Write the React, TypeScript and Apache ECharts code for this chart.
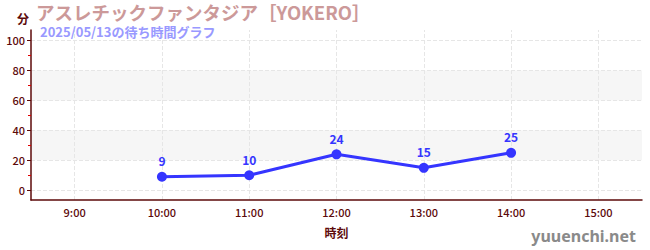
import React, { useEffect, useRef } from "react";
import * as echarts from "echarts";

const categories = ["9:00", "10:00", "11:00", "12:00", "13:00", "14:00", "15:00"];
const waitTimes: (number | null)[] = [null, 9, 10, 24, 15, 25, null];
const majorTicks = [0, 20, 40, 60, 80, 100];
const minorTicks = [10, 30, 50, 70, 90];
const bands = [
  [20, 40],
  [60, 80],
];
const titleText = "アスレチックファンタジア［YOKERO］";
const subText = "2025/05/13の待ち時間グラフ";
const xName = "時刻";
const yName = "分";
const watermark = "yuuenchi.net";

const FONT = "'Noto Sans CJK JP', 'Noto Sans', sans-serif";
const AXIS_COLOR = "#5c0a0a";

export default function App() {
  const ref = useRef<HTMLDivElement>(null);
  useEffect(() => {
    document.body.style.margin = "0";
    if (!ref.current) return;
    const chart = echarts.init(ref.current, null, { renderer: "svg" });
    chart.setOption({
      animation: false,
      textStyle: { fontFamily: FONT },
      title: [
        {
          text: titleText,
          left: 36,
          top: 2,
          padding: 0,
          textStyle: { fontSize: 18.5, fontWeight: "bold", color: "#cc9999", fontFamily: FONT, lineHeight: 19 },
        },
        {
          text: subText,
          left: 40,
          top: 25,
          padding: 0,
          textStyle: { fontSize: 13, fontWeight: "bold", color: "#9999ff", fontFamily: FONT, lineHeight: 13 },
        },
      ],
      graphic: [
        {
          type: "text",
          right: 14,
          bottom: 6,
          style: { text: watermark, fontSize: 16, fill: "#8a8a8a", fontFamily: "'Noto Sans', sans-serif", fontWeight: "bold" },
        },
      ],
      grid: { left: 31, right: 8, top: 30, bottom: 50 },
      xAxis: {
        type: "category",
        data: categories,
        boundaryGap: true,
        name: xName,
        nameLocation: "middle",
        nameGap: 26,
        nameTextStyle: { color: AXIS_COLOR, fontSize: 12, fontWeight: "bold" },
        axisLine: { onZero: false, lineStyle: { color: AXIS_COLOR, width: 1.5 } },
        axisTick: { alignWithLabel: true, length: 4, lineStyle: { color: AXIS_COLOR } },
        axisLabel: { color: AXIS_COLOR, fontSize: 11, fontWeight: 500, margin: 6 },
        splitLine: { show: false },
      },
      yAxis: [
        {
          type: "value",
          min: -6.5,
          max: 107,
          name: yName,
          nameLocation: "end",
          nameGap: 6,
          nameTextStyle: { color: AXIS_COLOR, fontSize: 12, fontWeight: "bold", align: "right", padding: [0, 2, 0, 0] },
          axisLine: { show: true, lineStyle: { color: AXIS_COLOR, width: 1.5 } },
          axisTick: { show: true, length: 4, customValues: majorTicks, lineStyle: { color: AXIS_COLOR } },
          axisLabel: { color: AXIS_COLOR, fontSize: 11, fontWeight: 500, margin: 6, customValues: majorTicks },
          splitLine: { show: false },
        },
        {
          type: "value",
          min: -6.5,
          max: 107,
          position: "left",
          axisLine: { show: false },
          axisTick: { show: true, length: 3, customValues: minorTicks, lineStyle: { color: "#e00000" } },
          axisLabel: { show: false },
          splitLine: { show: false },
        },
      ],
      series: [
        {
          type: "line",
          data: categories.map(() => null),
          z: -1,
          silent: true,
          markArea: {
            silent: true,
            z: -3,
            itemStyle: { color: "#f6f6f6" },
            data: bands.map(([a, b]) => [{ yAxis: a }, { yAxis: b }]),
          },
          markLine: {
            silent: true,
            z: -2,
            symbol: "none",
            label: { show: false },
            lineStyle: { color: "#e6e6e6", type: "dashed", width: 1 },
            data: [
              ...majorTicks.map((v) => ({ yAxis: v })),
              ...categories.map((c) => ({ xAxis: c })),
            ],
          },
        },
        {
          type: "line",
          data: waitTimes,
          symbol: "circle",
          symbolSize: 10,
          lineStyle: { color: "#3535ff", width: 3 },
          itemStyle: { color: "#3535ff" },
          label: {
            show: true,
            position: "top",
            distance: 5,
            color: "#3535ff",
            fontSize: 12,
            fontWeight: "bold",
          },
        },
      ],
    });
    return () => chart.dispose();
  }, []);
  return <div ref={ref} style={{ width: 650, height: 250 }} />;
}
